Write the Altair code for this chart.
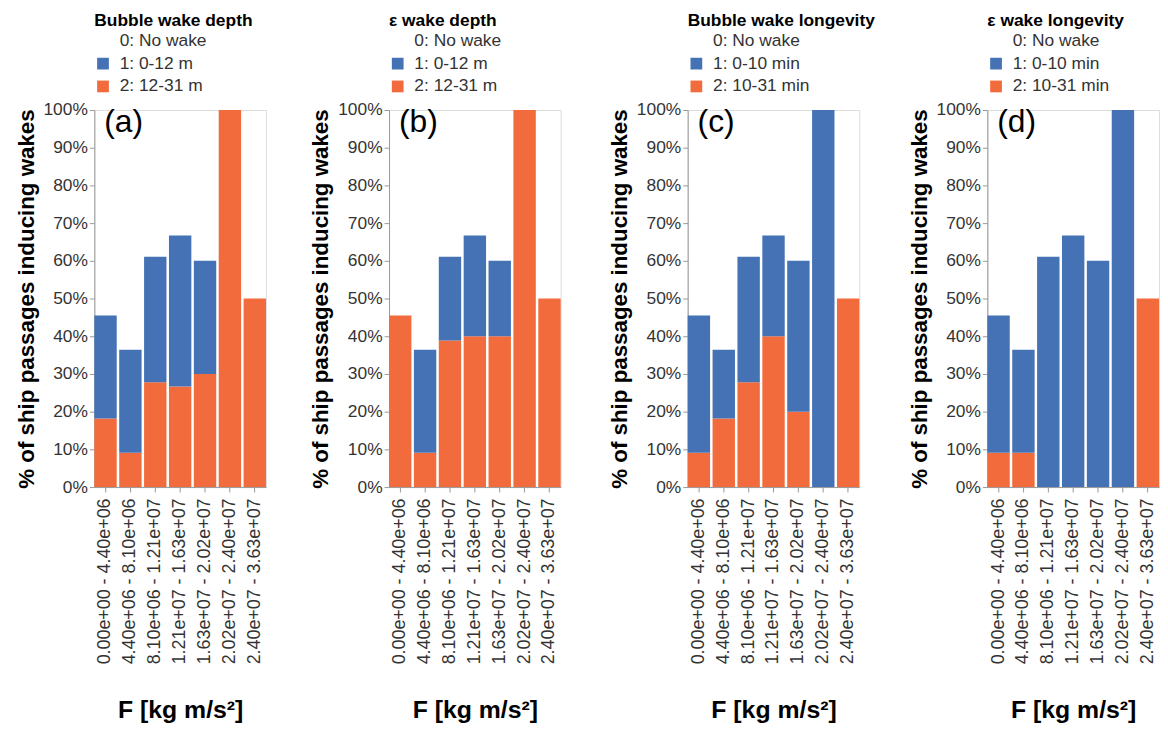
import altair as alt
import pandas as pd

bins = ["0.00e+00 - 4.40e+06", "4.40e+06 - 8.10e+06", "8.10e+06 - 1.21e+07",
        "1.21e+07 - 1.63e+07", "1.63e+07 - 2.02e+07", "2.02e+07 - 2.40e+07",
        "2.40e+07 - 3.63e+07"]

# percent of ship passages in each class (stacked: class 2 at bottom, class 1 on top)
a_cls1 = [27.3, 27.3, 33.3, 40.0, 30.0, 0.0, 0.0]
a_cls2 = [18.2, 9.1, 27.8, 26.7, 30.0, 100.0, 50.0]
b_cls1 = [0.0, 27.3, 22.2, 26.7, 20.0, 0.0, 0.0]
b_cls2 = [45.5, 9.1, 38.9, 40.0, 40.0, 100.0, 50.0]
c_cls1 = [36.4, 18.2, 33.3, 26.7, 40.0, 100.0, 0.0]
c_cls2 = [9.1, 18.2, 27.8, 40.0, 20.0, 0.0, 50.0]
d_cls1 = [36.4, 27.3, 61.1, 66.7, 60.0, 100.0, 0.0]
d_cls2 = [9.1, 9.1, 0.0, 0.0, 0.0, 0.0, 50.0]

panels = [
    ("(a)", "Bubble wake depth", ["0: No wake", "1: 0-12 m", "2: 12-31 m"], a_cls1, a_cls2),
    ("(b)", "ε wake depth", ["0: No wake", "1: 0-12 m", "2: 12-31 m"], b_cls1, b_cls2),
    ("(c)", "Bubble wake longevity", ["0: No wake", "1: 0-10 min", "2: 10-31 min"], c_cls1, c_cls2),
    ("(d)", "ε wake longevity", ["0: No wake", "1: 0-10 min", "2: 10-31 min"], d_cls1, d_cls2),
]

BLUE = "#4472b4"
ORANGE = "#f26b3d"
FONT = "Liberation Sans"


def panel(tag, title, classes, cls1, cls2):
    rows = []
    for b, v1, v2 in zip(bins, cls1, cls2):
        if v2 > 0:
            rows.append({"bin": b, "cls": classes[2], "val": v2 / 100, "ord": 0})
        if v1 > 0:
            rows.append({"bin": b, "cls": classes[1], "val": v1 / 100, "ord": 1})
    df = pd.DataFrame(rows)
    bars = alt.Chart(df).mark_bar().encode(
        x=alt.X("bin:N", sort=bins,
                scale=alt.Scale(domain=bins, paddingInner=0.1, paddingOuter=0.0),
                axis=alt.Axis(title="F [kg m/s²]", labelAngle=-90, labelFontSize=18,
                              titleFontSize=25, titleFontWeight="bold", labelPadding=6,
                              titlePadding=34, labelColor="#333", domainColor="#999",
                              tickColor="#999", tickSize=5, labelLimit=400)),
        y=alt.Y("val:Q", stack="zero",
                scale=alt.Scale(domain=[0, 1]),
                axis=alt.Axis(title="% of ship passages inducing wakes", format=".0%",
                              values=[i / 10 for i in range(11)], labelFontSize=17.5,
                              titleFontSize=22.5, titleFontWeight="bold", labelColor="#333",
                              domainColor="#999", tickColor="#999", tickSize=5,
                              titlePadding=5, grid=False)),
        color=alt.Color("cls:N",
                        scale=alt.Scale(domain=classes, range=["transparent", BLUE, ORANGE]),
                        legend=alt.Legend(title=title, orient="top", direction="vertical",
                                          symbolType="square", symbolSize=140,
                                          titleFontSize=17.5, labelFontSize=17.5,
                                          titleFontWeight="bold", labelColor="#333",
                                          rowPadding=4, titlePadding=3, offset=15,
                                          labelOffset=8, titleLimit=400, labelLimit=400,
                                          symbolStrokeWidth=0)),
        order=alt.Order("ord:Q", sort="ascending"),
    )
    label = alt.Chart(pd.DataFrame({"t": [tag]})).mark_text(
        align="left", baseline="top", fontSize=32, font=FONT, color="#000"
    ).encode(x=alt.value(10), y=alt.value(-3), text="t:N")
    return alt.layer(bars, label).properties(width=173, height=380)


pa, pb, pc, pd_ = [panel(*p) for p in panels]
left = alt.hconcat(pa, pb, spacing=42).resolve_scale(color="independent").resolve_legend(
    color="independent")
right = alt.hconcat(pc, pd_, spacing=31).resolve_scale(color="independent").resolve_legend(
    color="independent")
chart = alt.hconcat(left, right, spacing=46).resolve_scale(color="independent").resolve_legend(
    color="independent").configure_view(stroke=None).configure(font=FONT).configure_axis(
    labelFont=FONT, titleFont=FONT)
chart = chart.properties(padding={"top": 0, "left": 6, "right": 0, "bottom": 0})

chart.save("out.html", embed_options={"renderer": "svg", "actions": False})
